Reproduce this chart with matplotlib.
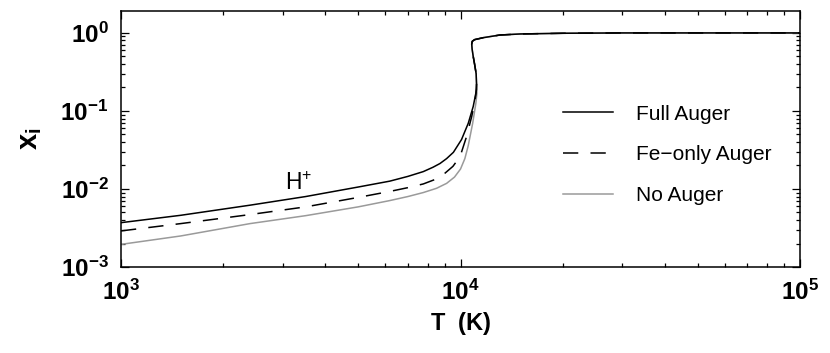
import math
import matplotlib
matplotlib.use("Agg")
import matplotlib.pyplot as plt
from matplotlib.ticker import FuncFormatter, LogLocator, NullFormatter

plt.rcParams['font.family'] = ['Liberation Sans', 'DejaVu Sans']
plt.rcParams['mathtext.fontset'] = 'custom'
plt.rcParams['mathtext.rm'] = 'Liberation Sans'
plt.rcParams['mathtext.bf'] = 'Liberation Sans:bold'
plt.rcParams['mathtext.it'] = 'Liberation Sans:italic'

# Full Auger
T_full = [1000, 1500, 2400, 3500, 5000, 6190, 7000, 7770, 8300, 8700, 9100, 9530, 10070, 10540, 10900, 11100,
          11150, 11120, 11000, 10900, 10820, 10790, 10830, 11000, 11680, 13060, 15000, 20000, 30000, 100000]
x_full = [3.7e-3, 4.6e-3, 6.2e-3, 8.0e-3, 1.06e-2, 1.26e-2, 1.45e-2, 1.67e-2, 1.9e-2, 2.12e-2, 2.45e-2, 2.95e-2,
          4.3e-2, 6.95e-2, 0.114, 0.17,
          0.22, 0.30, 0.40, 0.50, 0.62, 0.72, 0.78, 0.82, 0.87, 0.94, 0.97, 0.99, 1.0, 1.0]
# Fe-only Auger
T_fe = [1000, 1500, 2400, 3500, 5000, 6190, 7000, 7770, 8400, 9010, 9500, 9970, 10420, 10790, 11040, 11150,
        11150, 11120, 11000, 10900, 10820, 10790, 10830, 11000, 11680, 13060, 15000, 20000, 30000, 100000]
x_fe = [2.9e-3, 3.6e-3, 4.7e-3, 5.9e-3, 7.8e-3, 9.3e-3, 1.04e-2, 1.16e-2, 1.32e-2, 1.6e-2, 1.95e-2, 2.6e-2,
        4.7e-2, 8.5e-2, 0.138, 0.19,
        0.22, 0.30, 0.40, 0.50, 0.62, 0.72, 0.78, 0.82, 0.87, 0.94, 0.97, 0.99, 1.0, 1.0]
# No Auger
T_no = [1000, 1500, 2400, 3500, 5000, 6190, 7000, 7770, 8500, 9100, 9600, 10000, 10300, 10540, 10860, 11100, 11180,
        11150, 11120, 11000, 10900, 10820, 10790, 10830, 11000, 11680, 13060, 15000, 20000, 30000, 100000]
x_no = [1.95e-3, 2.5e-3, 3.6e-3, 4.55e-3, 5.9e-3, 7.1e-3, 8.0e-3, 9.0e-3, 1.02e-2, 1.18e-2, 1.42e-2, 1.8e-2,
        2.45e-2, 3.6e-2, 6.95e-2, 0.126, 0.17,
        0.22, 0.30, 0.40, 0.50, 0.62, 0.72, 0.78, 0.82, 0.87, 0.94, 0.97, 0.99, 1.0, 1.0]

fig = plt.figure(figsize=(8.3, 3.53), dpi=100)
ax = fig.add_axes([121/830, 1-267/353, (800-121)/830, (267-11)/353])

lw = 1.1
ax.plot(T_no, x_no, color='#9a9a9a', lw=lw, label='No Auger', zorder=2)
ax.plot(T_fe, x_fe, color='black', lw=lw, dashes=(10, 8), label='Fe\u2212only Auger', zorder=3)
ax.plot(T_full, x_full, color='black', lw=lw, label='Full Auger', zorder=4)

ax.set_xscale('log')
ax.set_yscale('log')
ax.set_xlim(1e3, 1e5)
ax.set_ylim(1e-3, 1.91)

fmt = FuncFormatter(lambda v, p: r'$\mathbf{10^{%d}}$' % round(math.log10(v)))
ax.xaxis.set_major_locator(LogLocator(base=10, numticks=10))
ax.yaxis.set_major_locator(LogLocator(base=10, numticks=10))
ax.xaxis.set_major_formatter(fmt)
ax.yaxis.set_major_formatter(fmt)
ax.xaxis.set_minor_formatter(NullFormatter())
ax.yaxis.set_minor_formatter(NullFormatter())
ax.tick_params(which='both', direction='in', top=True, right=True, width=0.9)
ax.tick_params(which='major', length=6, labelsize=17.5)
ax.tick_params(axis='x', which='major', pad=9)
ax.tick_params(axis='y', which='major', pad=9)
ax.tick_params(which='minor', length=3)
for s in ax.spines.values():
    s.set_linewidth(1.1)

ax.set_xlabel(r'$\mathbf{T\ \ (K)}$', fontsize=17, labelpad=4)
ax.set_ylabel(r'$\mathbf{x_i}$', fontsize=21, labelpad=12)

ax.text(3347, 1.19e-2, r'H$^{+}$', fontsize=16.5, ha='center', va='center')

h, l = ax.get_legend_handles_labels()
order = [2, 1, 0]
leg = ax.legend([h[i] for i in order], [l[i] for i in order], loc='center left',
                bbox_to_anchor=((563-121)/679, (267-155)/256), frameon=False, fontsize=15,
                handlelength=2.4, handletextpad=1.1, labelspacing=1.05,
                borderpad=0, borderaxespad=0)

fig.savefig('out.png', dpi=100)
